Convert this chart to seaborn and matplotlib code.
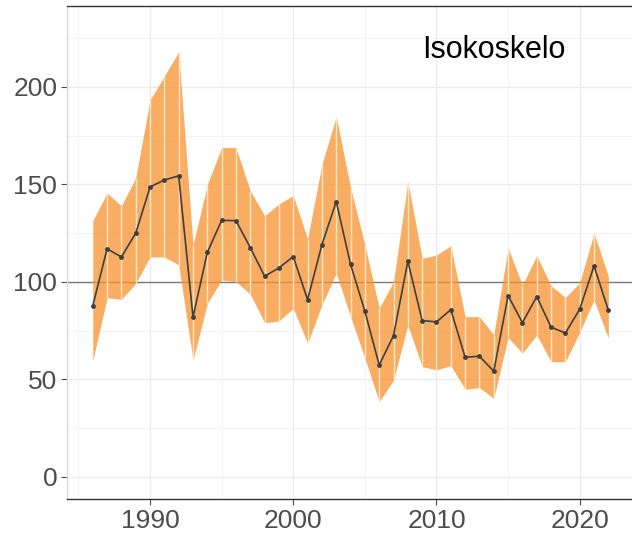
import matplotlib
matplotlib.use("Agg")
import matplotlib.pyplot as plt
import seaborn as sns
import pandas as pd
import numpy as np

years = list(range(1986, 2023))
index = [87.8, 117.0, 112.8, 125.0, 148.7, 152.3, 154.4, 82.0, 115.2, 131.6,
         131.4, 117.6, 102.9, 107.2, 113.0, 90.9, 119.1, 141.2, 109.0, 85.0,
         57.4, 72.5, 110.6, 80.2, 79.5, 85.8, 61.4, 61.9, 54.2, 93.0,
         79.1, 92.5, 76.8, 73.8, 86.0, 108.2, 85.5]
upper = [131.5, 145.5, 139.0, 153.5, 193.3, 205.6, 218.0, 119.0, 150.0, 168.9,
         168.9, 146.7, 134.0, 140.0, 144.3, 122.0, 160.3, 184.8, 148.4, 119.0,
         86.5, 100.2, 151.4, 112.1, 113.8, 118.6, 82.2, 82.2, 72.8, 117.3,
         98.5, 113.5, 98.1, 92.0, 99.6, 125.0, 103.0]
lower = [59.5, 92.0, 91.0, 99.3, 112.8, 112.8, 108.7, 59.8, 89.0, 101.0,
         100.2, 93.7, 79.1, 80.0, 86.5, 68.6, 88.2, 104.5, 82.2, 60.9,
         38.6, 49.7, 77.9, 56.6, 54.9, 57.1, 45.0, 45.8, 40.3, 71.6,
         63.4, 72.8, 59.1, 59.1, 74.2, 90.8, 71.1]
title = "Isokoskelo"
x_ticks = [1990, 2000, 2010, 2020]
y_ticks = [0, 50, 100, 150, 200]

df = pd.DataFrame({"year": years, "index": index, "upper": upper, "lower": lower})

sns.set_theme(style="white")
plt.rcParams["font.family"] = ["Liberation Sans", "DejaVu Sans"]

fig = plt.figure(figsize=(6.32, 5.33), dpi=100)
ax = fig.add_axes([67 / 632, 34 / 533, 580 / 632, 493 / 533])

# grid
for v in [0, 50, 100, 150, 200]:
    ax.axhline(v, color="#ebebeb", lw=1.0, zorder=0)
for v in [25, 75, 125, 175, 225]:
    ax.axhline(v, color="#f3f3f3", lw=0.7, zorder=0)
for v in x_ticks:
    ax.axvline(v, color="#ebebeb", lw=1.0, zorder=0)
for v in [1985, 1995, 2005, 2015, 2025]:
    ax.axvline(v, color="#f3f3f3", lw=0.7, zorder=0)

# reference line
ax.axhline(100, color="#7a7a7a", lw=1.0, zorder=1)

# ribbon
ax.fill_between(df["year"], df["lower"], df["upper"], color="#f8922f",
                alpha=0.75, lw=0, zorder=2)
ax.vlines(df["year"].iloc[1:-1], df["lower"].iloc[1:-1], df["upper"].iloc[1:-1],
          color="#fde7c2", lw=1.0, zorder=3)

sns.lineplot(data=df, x="year", y="index", ax=ax, color="#3f3f3f", lw=1.2,
             marker="o", markersize=3.5, markeredgewidth=0, zorder=4)

ax.set_xlim(1984.2, 2024.7)
ax.set_ylim(-11.3, 241.5)
ax.set_xticks(x_ticks)
ax.set_yticks(y_ticks)
ax.set_xlabel("")
ax.set_ylabel("")
ax.tick_params(axis="both", labelsize=19, labelcolor="#4d4d4d", colors="#4d4d4d",
               length=4, width=0.8, left=True, bottom=True, pad=3)

for s in ["top", "right", "left", "bottom"]:
    ax.spines[s].set_visible(True)
ax.spines["top"].set_color("#333333")
ax.spines["top"].set_linewidth(1.0)
ax.spines["bottom"].set_color("#333333")
ax.spines["bottom"].set_linewidth(1.0)
ax.spines["left"].set_color("#d9d9d9")
ax.spines["left"].set_linewidth(1.0)
ax.spines["right"].set_visible(False)

ax.text(2014.0, 219, title, fontsize=22, color="black", ha="center", va="center")

fig.savefig("out.png", dpi=100)
